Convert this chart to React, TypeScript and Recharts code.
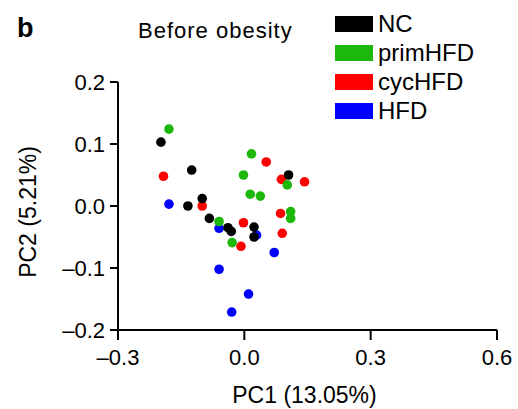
import { ScatterChart, Scatter, XAxis, YAxis, Label } from "recharts";

// PCA scores per diet group (PC1, PC2)
const ncPoints = [
  { x: -0.198, y: 0.103 },
  { x: -0.125, y: 0.058 },
  { x: -0.134, y: 0.0 },
  { x: -0.1, y: 0.012 },
  { x: -0.083, y: -0.02 },
  { x: -0.039, y: -0.035 },
  { x: -0.031, y: -0.041 },
  { x: 0.023, y: -0.034 },
  { x: 0.023, y: -0.05 },
  { x: 0.105, y: 0.05 },
];

const primHfdPoints = [
  { x: -0.179, y: 0.124 },
  { x: 0.017, y: 0.084 },
  { x: -0.002, y: 0.05 },
  { x: 0.014, y: 0.019 },
  { x: 0.038, y: 0.016 },
  { x: 0.102, y: 0.034 },
  { x: -0.06, y: -0.025 },
  { x: -0.029, y: -0.059 },
  { x: 0.11, y: -0.009 },
  { x: 0.11, y: -0.02 },
];

const cycHfdPoints = [
  { x: -0.192, y: 0.048 },
  { x: -0.1, y: 0.0 },
  { x: 0.052, y: 0.071 },
  { x: 0.088, y: 0.043 },
  { x: 0.143, y: 0.039 },
  { x: -0.002, y: -0.027 },
  { x: -0.008, y: -0.065 },
  { x: 0.086, y: -0.012 },
  { x: 0.09, y: -0.044 },
];

const hfdPoints = [
  { x: -0.179, y: 0.003 },
  { x: -0.06, y: -0.036 },
  { x: 0.029, y: -0.047 },
  { x: 0.071, y: -0.075 },
  { x: -0.06, y: -0.102 },
  { x: 0.01, y: -0.142 },
  { x: -0.03, y: -0.171 },
];

const legendOrder = ["NC", "primHFD", "cycHFD", "HFD"];

const xTicks = [-0.3, 0, 0.3, 0.6];
const xTickLabels = ["\u20130.3", "0.0", "0.3", "0.6"];
const yTicks = [-0.2, -0.1, 0, 0.1, 0.2];
const yTickLabels = ["\u20130.2", "\u20130.1", "0.0", "0.1", "0.2"];

const FONT = '"Liberation Sans", Arial, Helvetica, sans-serif';
const DOT_R = 4.8;

const colors: Record<string, string> = {
  NC: "#000000",
  primHFD: "#1cb80c",
  cycHFD: "#ff0000",
  HFD: "#0000ff",
};

function dot(color: string) {
  return (p: any) => <circle cx={p.cx} cy={p.cy} r={DOT_R} fill={color} />;
}

function LegendBox() {
  return (
    <div style={{ position: "absolute", left: 335, top: 9, fontFamily: FONT }}>
      {legendOrder.map((name) => (
        <div
          key={name}
          style={{ display: "flex", alignItems: "center", height: 29 }}
        >
          <span
            style={{
              display: "inline-block",
              width: 38,
              height: 16,
              background: colors[name],
              marginRight: 5,
            }}
          />
          <span style={{ fontSize: 24, lineHeight: "29px", color: "#000" }}>
            {name}
          </span>
        </div>
      ))}
    </div>
  );
}

function YTitle(props: any) {
  const vb = props.viewBox || { x: 0, y: 82, width: 118, height: 248 };
  const cx = vb.x + 28;
  const cy = vb.y + vb.height / 2 + 6;
  return (
    <text
      x={cx}
      y={cy}
      transform={`rotate(-90 ${cx} ${cy})`}
      textAnchor="middle"
      dominantBaseline="central"
      fontFamily={FONT}
      fontSize={23}
      fill="#000"
    >
      PC2 (5.21%)
    </text>
  );
}

export default function App() {
  const tickStyle = { fontSize: 22, fill: "#000", fontFamily: FONT };
  return (
    <div
      style={{
        position: "absolute",
        left: 0,
        top: 0,
        width: 518,
        height: 409,
        background: "#fff",
      }}
    >
      <div
        style={{
          position: "absolute",
          left: 17,
          top: 12,
          fontFamily: FONT,
          fontWeight: "bold",
          fontSize: 27,
          lineHeight: "32px",
        }}
      >
        b
      </div>
      <div
        style={{
          position: "absolute",
          left: 138,
          top: 18,
          fontFamily: FONT,
          fontSize: 22,
          lineHeight: "26px",
          letterSpacing: 1,
        }}
      >
        Before obesity
      </div>
      <LegendBox />
      <ScatterChart
        width={518}
        height={409}
        margin={{ top: 82, right: 21, left: 0, bottom: 0 }}
      >
        <XAxis
          type="number"
          dataKey="x"
          domain={[-0.3, 0.6]}
          ticks={xTicks}
          tickFormatter={(v: number) => xTickLabels[xTicks.indexOf(v)] ?? String(v)}
          height={79}
          stroke="#000"
          strokeWidth={2}
          tickSize={10}
          tickMargin={9}
          tick={tickStyle}
          interval={0}
        >
          <Label
            value="PC1 (13.05%)"
            position="insideBottom"
            offset={6}
            dx={-3}
            style={{ fontSize: 23, fill: "#000", fontFamily: FONT }}
          />
        </XAxis>
        <YAxis
          type="number"
          dataKey="y"
          domain={[-0.2, 0.2]}
          ticks={yTicks}
          tickFormatter={(v: number) => yTickLabels[yTicks.indexOf(v)] ?? String(v)}
          width={118}
          stroke="#000"
          strokeWidth={2}
          tickSize={8}
          tickMargin={5}
          tick={tickStyle}
          interval={0}
        >
          <Label content={YTitle} />
        </YAxis>
        <Scatter
          name="HFD"
          data={hfdPoints}
          fill={colors.HFD}
          shape={dot(colors.HFD)}
          isAnimationActive={false}
        />
        <Scatter
          name="cycHFD"
          data={cycHfdPoints}
          fill={colors.cycHFD}
          shape={dot(colors.cycHFD)}
          isAnimationActive={false}
        />
        <Scatter
          name="primHFD"
          data={primHfdPoints}
          fill={colors.primHFD}
          shape={dot(colors.primHFD)}
          isAnimationActive={false}
        />
        <Scatter
          name="NC"
          data={ncPoints}
          fill={colors.NC}
          shape={dot(colors.NC)}
          isAnimationActive={false}
        />
      </ScatterChart>
    </div>
  );
}
